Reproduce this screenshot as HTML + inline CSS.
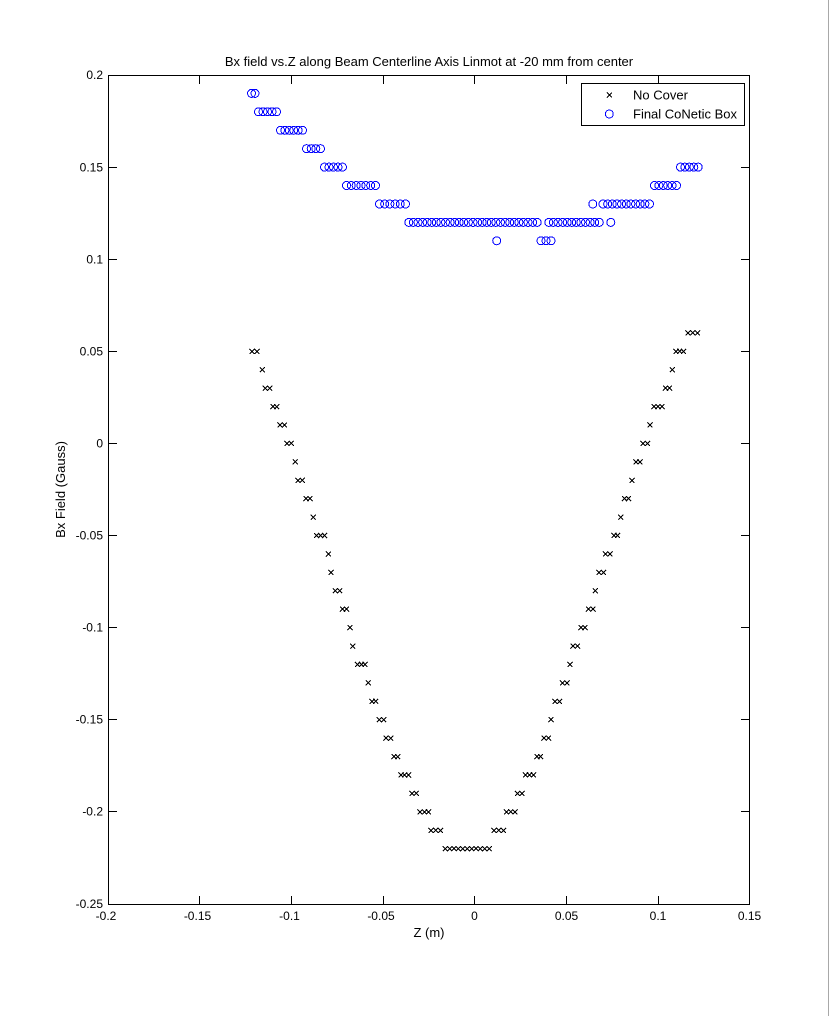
<!DOCTYPE html>
<html>
<head>
<meta charset="utf-8">
<style>
html,body{margin:0;padding:0;background:#fff;}
svg{display:block;}
text{font-family:"Liberation Sans",Arial,sans-serif;fill:#000;}
</style>
</head>
<body>
<svg width="830" height="1016" viewBox="0 0 830 1016" xmlns="http://www.w3.org/2000/svg">
<rect x="0" y="0" width="830" height="1016" fill="#fff"/>
<line x1="828.5" y1="0" x2="828.5" y2="1016" stroke="#a8a8a8" stroke-width="1"/>

<!-- title -->
<text x="429" y="66" font-size="13" text-anchor="middle">Bx field vs.Z along Beam Centerline Axis Linmot at -20 mm from center</text>

<!-- axes box -->
<rect x="108.5" y="75.5" width="641" height="829" fill="none" stroke="#000" stroke-width="1"/>

<!-- ticks -->
<g stroke="#000" stroke-width="1">
<path d="M199.5 904v-8M291.5 904v-8M383.5 904v-8M474.5 904v-8M566.5 904v-8M658.5 904v-8
M199.5 76v8M291.5 76v8M383.5 76v8M474.5 76v8M566.5 76v8M658.5 76v8
M109 167.5h8M109 259.5h8M109 351.5h8M109 443.5h8M109 535.5h8M109 627.5h8M109 719.5h8M109 811.5h8
M749 167.5h-8M749 259.5h-8M749 351.5h-8M749 443.5h-8M749 535.5h-8M749 627.5h-8M749 719.5h-8M749 811.5h-8"/>
</g>

<!-- y tick labels -->
<g font-size="12" text-anchor="end">
<text x="103" y="79">0.2</text>
<text x="103" y="171.5">0.15</text>
<text x="103" y="263.5">0.1</text>
<text x="103" y="355.5">0.05</text>
<text x="103" y="447.5">0</text>
<text x="103" y="539.5">-0.05</text>
<text x="103" y="631.5">-0.1</text>
<text x="103" y="723.5">-0.15</text>
<text x="103" y="815.5">-0.2</text>
<text x="103" y="908">-0.25</text>
</g>

<!-- x tick labels -->
<g font-size="12" text-anchor="middle">
<text x="106" y="920">-0.2</text>
<text x="197.5" y="920">-0.15</text>
<text x="289.5" y="920">-0.1</text>
<text x="381" y="920">-0.05</text>
<text x="474.5" y="920">0</text>
<text x="566.5" y="920">0.05</text>
<text x="658" y="920">0.1</text>
<text x="749.5" y="920">0.15</text>
</g>

<!-- axis labels -->
<text x="429" y="937" font-size="13" text-anchor="middle">Z (m)</text>
<text transform="translate(65 489.5) rotate(-90)" font-size="13" text-anchor="middle">Bx Field (Gauss)</text>

<!-- No Cover x-marks -->
<path fill="none" stroke="#000" stroke-width="1" shape-rendering="crispEdges" d="
M252 351.3m-2.5-2.5l5 5m0-5l-5 5M257 351.3m-2.5-2.5l5 5m0-5l-5 5
M262.3 369.8m-2.5-2.5l5 5m0-5l-5 5
M265.3 388.2m-2.5-2.5l5 5m0-5l-5 5M269.7 388.2m-2.5-2.5l5 5m0-5l-5 5
M273 406.6m-2.5-2.5l5 5m0-5l-5 5M276.7 406.6m-2.5-2.5l5 5m0-5l-5 5
M280 425m-2.5-2.5l5 5m0-5l-5 5M284.3 425m-2.5-2.5l5 5m0-5l-5 5
M287 443.4m-2.5-2.5l5 5m0-5l-5 5M291.3 443.4m-2.5-2.5l5 5m0-5l-5 5
M295.3 461.9m-2.5-2.5l5 5m0-5l-5 5
M298 480.3m-2.5-2.5l5 5m0-5l-5 5M302.3 480.3m-2.5-2.5l5 5m0-5l-5 5
M306 498.7m-2.5-2.5l5 5m0-5l-5 5M310 498.7m-2.5-2.5l5 5m0-5l-5 5
M313.3 517.1m-2.5-2.5l5 5m0-5l-5 5
M316.7 535.5m-2.5-2.5l5 5m0-5l-5 5M320.7 535.5m-2.5-2.5l5 5m0-5l-5 5M324.7 535.5m-2.5-2.5l5 5m0-5l-5 5
M328.3 554m-2.5-2.5l5 5m0-5l-5 5
M331 572.4m-2.5-2.5l5 5m0-5l-5 5
M335.3 590.8m-2.5-2.5l5 5m0-5l-5 5M339.7 590.8m-2.5-2.5l5 5m0-5l-5 5
M342.5 609.2m-2.5-2.5l5 5m0-5l-5 5M346.5 609.2m-2.5-2.5l5 5m0-5l-5 5
M350 627.6m-2.5-2.5l5 5m0-5l-5 5
M352.7 646.1m-2.5-2.5l5 5m0-5l-5 5
M357.5 664.5m-2.5-2.5l5 5m0-5l-5 5M361.5 664.5m-2.5-2.5l5 5m0-5l-5 5M365 664.5m-2.5-2.5l5 5m0-5l-5 5
M368.3 682.9m-2.5-2.5l5 5m0-5l-5 5
M372 701.3m-2.5-2.5l5 5m0-5l-5 5M375.7 701.3m-2.5-2.5l5 5m0-5l-5 5
M379.3 719.7m-2.5-2.5l5 5m0-5l-5 5M383.7 719.7m-2.5-2.5l5 5m0-5l-5 5
M386 738.2m-2.5-2.5l5 5m0-5l-5 5M390.7 738.2m-2.5-2.5l5 5m0-5l-5 5
M394 756.6m-2.5-2.5l5 5m0-5l-5 5M397.7 756.6m-2.5-2.5l5 5m0-5l-5 5
M401 775m-2.5-2.5l5 5m0-5l-5 5M404.7 775m-2.5-2.5l5 5m0-5l-5 5M408.7 775m-2.5-2.5l5 5m0-5l-5 5
M412 793.4m-2.5-2.5l5 5m0-5l-5 5M416.3 793.4m-2.5-2.5l5 5m0-5l-5 5
M420 811.8m-2.5-2.5l5 5m0-5l-5 5M424.5 811.8m-2.5-2.5l5 5m0-5l-5 5M428.5 811.8m-2.5-2.5l5 5m0-5l-5 5
M431 830.3m-2.5-2.5l5 5m0-5l-5 5M435.7 830.3m-2.5-2.5l5 5m0-5l-5 5M440.5 830.3m-2.5-2.5l5 5m0-5l-5 5
M445.2 848.7m-2.5-2.5l5 5m0-5l-5 5M449.6 848.7m-2.5-2.5l5 5m0-5l-5 5M454 848.7m-2.5-2.5l5 5m0-5l-5 5M458.4 848.7m-2.5-2.5l5 5m0-5l-5 5
M462.8 848.7m-2.5-2.5l5 5m0-5l-5 5M467.2 848.7m-2.5-2.5l5 5m0-5l-5 5M471.6 848.7m-2.5-2.5l5 5m0-5l-5 5M476 848.7m-2.5-2.5l5 5m0-5l-5 5
M480.4 848.7m-2.5-2.5l5 5m0-5l-5 5M484.8 848.7m-2.5-2.5l5 5m0-5l-5 5M489.2 848.7m-2.5-2.5l5 5m0-5l-5 5
M494 830.3m-2.5-2.5l5 5m0-5l-5 5M498.7 830.3m-2.5-2.5l5 5m0-5l-5 5M503.5 830.3m-2.5-2.5l5 5m0-5l-5 5
M506.5 811.8m-2.5-2.5l5 5m0-5l-5 5M510.7 811.8m-2.5-2.5l5 5m0-5l-5 5M515 811.8m-2.5-2.5l5 5m0-5l-5 5
M517.5 793.4m-2.5-2.5l5 5m0-5l-5 5M522 793.4m-2.5-2.5l5 5m0-5l-5 5
M525.5 775m-2.5-2.5l5 5m0-5l-5 5M529.5 775m-2.5-2.5l5 5m0-5l-5 5M533.5 775m-2.5-2.5l5 5m0-5l-5 5
M537 756.6m-2.5-2.5l5 5m0-5l-5 5M540.5 756.6m-2.5-2.5l5 5m0-5l-5 5
M544 738.2m-2.5-2.5l5 5m0-5l-5 5M548.5 738.2m-2.5-2.5l5 5m0-5l-5 5
M551 719.7m-2.5-2.5l5 5m0-5l-5 5
M555 701.3m-2.5-2.5l5 5m0-5l-5 5M559.5 701.3m-2.5-2.5l5 5m0-5l-5 5
M562.5 682.9m-2.5-2.5l5 5m0-5l-5 5M567 682.9m-2.5-2.5l5 5m0-5l-5 5
M570 664.5m-2.5-2.5l5 5m0-5l-5 5
M573 646.1m-2.5-2.5l5 5m0-5l-5 5M577.5 646.1m-2.5-2.5l5 5m0-5l-5 5
M581 627.6m-2.5-2.5l5 5m0-5l-5 5M585 627.6m-2.5-2.5l5 5m0-5l-5 5
M588.5 609.2m-2.5-2.5l5 5m0-5l-5 5M593 609.2m-2.5-2.5l5 5m0-5l-5 5
M595.3 590.8m-2.5-2.5l5 5m0-5l-5 5
M599 572.4m-2.5-2.5l5 5m0-5l-5 5M603.5 572.4m-2.5-2.5l5 5m0-5l-5 5
M605.5 554m-2.5-2.5l5 5m0-5l-5 5M610 554m-2.5-2.5l5 5m0-5l-5 5
M614 535.5m-2.5-2.5l5 5m0-5l-5 5M617.5 535.5m-2.5-2.5l5 5m0-5l-5 5
M620.7 517.1m-2.5-2.5l5 5m0-5l-5 5
M624.5 498.7m-2.5-2.5l5 5m0-5l-5 5M628.5 498.7m-2.5-2.5l5 5m0-5l-5 5
M632 480.3m-2.5-2.5l5 5m0-5l-5 5
M636 461.9m-2.5-2.5l5 5m0-5l-5 5M640 461.9m-2.5-2.5l5 5m0-5l-5 5
M643 443.4m-2.5-2.5l5 5m0-5l-5 5M647.5 443.4m-2.5-2.5l5 5m0-5l-5 5
M650 425m-2.5-2.5l5 5m0-5l-5 5
M654 406.6m-2.5-2.5l5 5m0-5l-5 5M658 406.6m-2.5-2.5l5 5m0-5l-5 5M662 406.6m-2.5-2.5l5 5m0-5l-5 5
M665.5 388.2m-2.5-2.5l5 5m0-5l-5 5M669.5 388.2m-2.5-2.5l5 5m0-5l-5 5
M672.3 369.8m-2.5-2.5l5 5m0-5l-5 5
M676 351.3m-2.5-2.5l5 5m0-5l-5 5M679.7 351.3m-2.5-2.5l5 5m0-5l-5 5M683.5 351.3m-2.5-2.5l5 5m0-5l-5 5
M688 332.9m-2.5-2.5l5 5m0-5l-5 5M692.7 332.9m-2.5-2.5l5 5m0-5l-5 5M697.5 332.9m-2.5-2.5l5 5m0-5l-5 5
"/>

<!-- Final CoNetic Box circles -->
<g fill="none" stroke="#0000ff" stroke-width="1" shape-rendering="crispEdges">
<circle cx="251.5" cy="93.4" r="4"/><circle cx="255" cy="93.4" r="4"/>
<circle cx="258.5" cy="111.8" r="4"/><circle cx="263" cy="111.8" r="4"/><circle cx="267.5" cy="111.8" r="4"/><circle cx="272" cy="111.8" r="4"/><circle cx="276.5" cy="111.8" r="4"/>
<circle cx="280.5" cy="130.3" r="4"/><circle cx="284.9" cy="130.3" r="4"/><circle cx="289.3" cy="130.3" r="4"/><circle cx="293.7" cy="130.3" r="4"/><circle cx="298.1" cy="130.3" r="4"/><circle cx="302.5" cy="130.3" r="4"/>
<circle cx="306.5" cy="148.7" r="4"/><circle cx="311.2" cy="148.7" r="4"/><circle cx="315.8" cy="148.7" r="4"/><circle cx="320.5" cy="148.7" r="4"/>
<circle cx="324.5" cy="167.1" r="4"/><circle cx="329" cy="167.1" r="4"/><circle cx="333.5" cy="167.1" r="4"/><circle cx="338" cy="167.1" r="4"/><circle cx="342.5" cy="167.1" r="4"/>
<circle cx="346.5" cy="185.5" r="4"/><circle cx="351.3" cy="185.5" r="4"/><circle cx="356.2" cy="185.5" r="4"/><circle cx="361" cy="185.5" r="4"/><circle cx="365.8" cy="185.5" r="4"/><circle cx="370.7" cy="185.5" r="4"/><circle cx="375.5" cy="185.5" r="4"/>
<circle cx="379.5" cy="204" r="4"/><circle cx="384.7" cy="204" r="4"/><circle cx="389.9" cy="204" r="4"/><circle cx="395.1" cy="204" r="4"/><circle cx="400.3" cy="204" r="4"/><circle cx="405.5" cy="204" r="4"/>
<circle cx="408.8" cy="222.4" r="4"/><circle cx="413.4" cy="222.4" r="4"/><circle cx="418" cy="222.4" r="4"/><circle cx="422.6" cy="222.4" r="4"/><circle cx="427.1" cy="222.4" r="4"/><circle cx="431.7" cy="222.4" r="4"/>
<circle cx="436.3" cy="222.4" r="4"/><circle cx="440.9" cy="222.4" r="4"/><circle cx="445.5" cy="222.4" r="4"/><circle cx="450.1" cy="222.4" r="4"/><circle cx="454.7" cy="222.4" r="4"/><circle cx="459.2" cy="222.4" r="4"/>
<circle cx="463.8" cy="222.4" r="4"/><circle cx="468.4" cy="222.4" r="4"/><circle cx="473" cy="222.4" r="4"/><circle cx="477.6" cy="222.4" r="4"/><circle cx="482.2" cy="222.4" r="4"/><circle cx="486.8" cy="222.4" r="4"/>
<circle cx="491.3" cy="222.4" r="4"/><circle cx="495.9" cy="222.4" r="4"/><circle cx="500.5" cy="222.4" r="4"/><circle cx="505.1" cy="222.4" r="4"/><circle cx="509.7" cy="222.4" r="4"/><circle cx="514.3" cy="222.4" r="4"/>
<circle cx="518.9" cy="222.4" r="4"/><circle cx="523.4" cy="222.4" r="4"/><circle cx="528" cy="222.4" r="4"/><circle cx="532.6" cy="222.4" r="4"/><circle cx="537.2" cy="222.4" r="4"/>
<circle cx="548.8" cy="222.4" r="4"/><circle cx="553.4" cy="222.4" r="4"/><circle cx="558" cy="222.4" r="4"/><circle cx="562.6" cy="222.4" r="4"/><circle cx="567.2" cy="222.4" r="4"/><circle cx="571.7" cy="222.4" r="4"/>
<circle cx="576.3" cy="222.4" r="4"/><circle cx="580.9" cy="222.4" r="4"/><circle cx="585.5" cy="222.4" r="4"/><circle cx="590.1" cy="222.4" r="4"/><circle cx="594.7" cy="222.4" r="4"/><circle cx="599.3" cy="222.4" r="4"/>
<circle cx="610.8" cy="222.4" r="4"/>
<circle cx="496.7" cy="240.8" r="4"/><circle cx="541" cy="240.8" r="4"/><circle cx="546" cy="240.8" r="4"/><circle cx="551" cy="240.8" r="4"/>
<circle cx="592.8" cy="204" r="4"/>
<circle cx="603" cy="204" r="4"/><circle cx="607.7" cy="204" r="4"/><circle cx="612.3" cy="204" r="4"/><circle cx="617" cy="204" r="4"/><circle cx="621.6" cy="204" r="4"/><circle cx="626.3" cy="204" r="4"/>
<circle cx="630.9" cy="204" r="4"/><circle cx="635.6" cy="204" r="4"/><circle cx="640.2" cy="204" r="4"/><circle cx="644.9" cy="204" r="4"/><circle cx="649.5" cy="204" r="4"/>
<circle cx="654.5" cy="185.5" r="4"/><circle cx="658.9" cy="185.5" r="4"/><circle cx="663.3" cy="185.5" r="4"/><circle cx="667.7" cy="185.5" r="4"/><circle cx="672.1" cy="185.5" r="4"/><circle cx="676.5" cy="185.5" r="4"/>
<circle cx="680.5" cy="167.1" r="4"/><circle cx="684.9" cy="167.1" r="4"/><circle cx="689.4" cy="167.1" r="4"/><circle cx="693.8" cy="167.1" r="4"/><circle cx="698.2" cy="167.1" r="4"/>
</g>

<!-- legend -->
<rect x="581.5" y="83.5" width="163" height="42" fill="#fff" stroke="#000" stroke-width="1"/>
<path fill="none" stroke="#000" stroke-width="1" shape-rendering="crispEdges" d="M609.3 95m-2.5-2.5l5 5m0-5l-5 5"/>
<circle cx="609.3" cy="114" r="4" fill="none" stroke="#0000ff" stroke-width="1" shape-rendering="crispEdges"/>
<text x="633" y="99.5" font-size="13">No Cover</text>
<text x="633" y="118.5" font-size="13">Final CoNetic Box</text>
</svg>
</body>
</html>
